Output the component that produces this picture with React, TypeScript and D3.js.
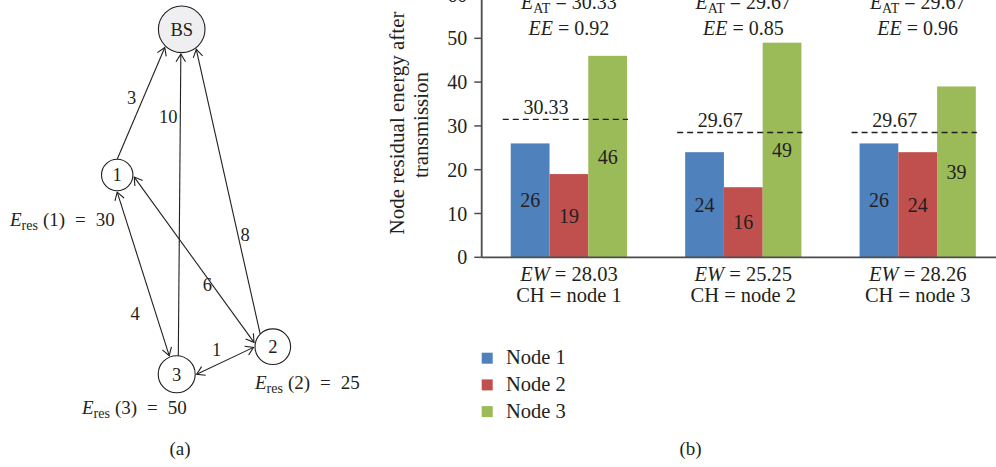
import React from "react";
import * as d3 from "d3";

// ---------- data ----------
const CATEGORY_CH = ["node 1", "node 2", "node 3"];
const EW_VALUES = ["28.03", "25.25", "28.26"];
const EAT_LABELS = ["30.33", "29.67", "29.67"];
const EE_VALUES = ["0.92", "0.85", "0.96"];
const EAT_LINE_LEVEL = [31.5, 28.5, 28.5];
const SERIES = ["Node 1", "Node 2", "Node 3"];
const NODE1_VALUES = [26, 24, 26];
const NODE2_VALUES = [19, 16, 24];
const NODE3_VALUES = [46, 49, 39];
const Y_TICKS = [0, 10, 20, 30, 40, 50, 60];

// graph (a)
const GRAPH_NODES = [
  { id: "BS", label: "BS" },
  { id: "1", label: "1" },
  { id: "2", label: "2" },
  { id: "3", label: "3" },
];
const GRAPH_EDGES = [
  { from: "1", to: "BS", weight: "3", both: false },
  { from: "3", to: "BS", weight: "10", both: false },
  { from: "2", to: "BS", weight: "8", both: false },
  { from: "1", to: "3", weight: "4", both: true },
  { from: "1", to: "2", weight: "6", both: true },
  { from: "3", to: "2", weight: "1", both: true },
];
const RESIDUAL = [
  { node: "1", value: "30" },
  { node: "2", value: "25" },
  { node: "3", value: "50" },
];

// ---------- layout ----------
const FONT = "'Liberation Serif', 'Times New Roman', serif";
const TEXT = "#231f20";
const COLORS = ["#4F81BD", "#C0504D", "#9BBB59"];

const NODE_POS: Record<string, { x: number; y: number; r: number; fill: string }> = {
  BS: { x: 181.7, y: 29.3, r: 23.3, fill: "#efeff1" },
  "1": { x: 117.2, y: 175, r: 15.7, fill: "#ffffff" },
  "2": { x: 272.8, y: 346.7, r: 17.8, fill: "#ffffff" },
  "3": { x: 176.7, y: 374.2, r: 18.5, fill: "#ffffff" },
};
// angle (deg) where each edge touches the from / to node, and weight label position
const EDGE_LAYOUT = [
  { a: -90, b: 133, lx: 131.7, ly: 97.3 },
  { a: -85, b: 92, lx: 168.3, ly: 116.7 },
  { a: -135, b: 54, lx: 245, ly: 235 },
  { a: 90, b: -112, lx: 135, ly: 313.3 },
  { a: 7, b: -167, lx: 207.3, ly: 285 },
  { a: 0, b: 178, lx: 216.7, ly: 350 },
];
const RES_LAYOUT: Record<string, { x: number; y: number }> = {
  "1": { x: 10, y: 226 },
  "2": { x: 255, y: 388.5 },
  "3": { x: 82, y: 414 },
};

function pointOn(id: string, deg: number, extra: number) {
  const n = NODE_POS[id];
  const t = (deg * Math.PI) / 180;
  return { x: n.x + (n.r + extra) * Math.cos(t), y: n.y + (n.r + extra) * Math.sin(t) };
}

function arrowHead(tip: { x: number; y: number }, from: { x: number; y: number }, key: string) {
  const ang = Math.atan2(from.y - tip.y, from.x - tip.x);
  const len = 9;
  const spread = (32 * Math.PI) / 180;
  const p1 = { x: tip.x + len * Math.cos(ang + spread), y: tip.y + len * Math.sin(ang + spread) };
  const p2 = { x: tip.x + len * Math.cos(ang - spread), y: tip.y + len * Math.sin(ang - spread) };
  return (
    <path
      key={key}
      d={`M${p1.x},${p1.y}L${tip.x},${tip.y}L${p2.x},${p2.y}`}
      fill="none"
      stroke="#231f20"
      strokeWidth={1.1}
    />
  );
}

function GraphPanel() {
  return (
    <g fontFamily={FONT} fill={TEXT}>
      {GRAPH_EDGES.map((e, i) => {
        const L = EDGE_LAYOUT[i];
        const p = pointOn(e.from, L.a, e.both ? 1.5 : 0);
        const q = pointOn(e.to, L.b, 1.5);
        return (
          <g key={i}>
            <line x1={p.x} y1={p.y} x2={q.x} y2={q.y} stroke="#231f20" strokeWidth={1.1} />
            {arrowHead(q, p, "b")}
            {e.both ? arrowHead(p, q, "a") : null}
            <text x={L.lx} y={L.ly} dy="0.35em" textAnchor="middle" fontSize={18.5}>
              {e.weight}
            </text>
          </g>
        );
      })}
      {GRAPH_NODES.map((n) => {
        const p = NODE_POS[n.id];
        return (
          <g key={n.id}>
            <circle cx={p.x} cy={p.y} r={p.r} fill={p.fill} stroke="#231f20" strokeWidth={1.1} />
            <text x={p.x} y={p.y} dy="0.35em" textAnchor="middle" fontSize={18.5}>
              {n.label}
            </text>
          </g>
        );
      })}
      {RESIDUAL.map((r) => {
        const p = RES_LAYOUT[r.node];
        return (
          <text key={r.node} x={p.x} y={p.y} fontSize={19}>
            <tspan fontStyle="italic">E</tspan>
            <tspan fontSize={14} dy={4}>res</tspan>
            <tspan dy={-4} dx={5}>({r.node})</tspan>
            <tspan dx={10}>=</tspan>
            <tspan dx={10}>{r.value}</tspan>
          </text>
        );
      })}
      <text x={180} y={455} textAnchor="middle" fontSize={19}>(a)</text>
    </g>
  );
}

function ChartPanel() {
  const axisX = 481.7;
  const y = d3.scaleLinear().domain([0, 60]).range([257.3, -5.5]);
  const x0 = d3
    .scaleBand<number>()
    .domain(d3.range(CATEGORY_CH.length))
    .range([axisX, axisX + 3 * 174.4])
    .paddingInner(0)
    .paddingOuter(0);
  const x1 = d3
    .scaleBand<number>()
    .domain(d3.range(SERIES.length))
    .range([0, x0.bandwidth()])
    .paddingInner(0)
    .paddingOuter(0.75);
  const seriesValues = [NODE1_VALUES, NODE2_VALUES, NODE3_VALUES];
  const fs = 20;
  const axisColor = "#4d4d4d";

  return (
    <g fontFamily={FONT} fill={TEXT}>
      {/* bars */}
      {CATEGORY_CH.map((_, ci) =>
        seriesValues.map((vals, si) => {
          const bx = (x0(ci) as number) + (x1(si) as number);
          const v = vals[ci];
          return (
            <g key={`${ci}-${si}`}>
              <rect x={bx} y={y(v)} width={x1.bandwidth()} height={y(0) - y(v)} fill={COLORS[si]} />
              <text x={bx + x1.bandwidth() / 2} y={y(v / 2)} dy="0.35em" textAnchor="middle" fontSize={fs}>
                {v}
              </text>
            </g>
          );
        })
      )}
      {/* average lines */}
      {CATEGORY_CH.map((_, ci) => {
        const gx0 = (x0(ci) as number) + (x1(0) as number);
        const gx1 = (x0(ci) as number) + (x1(2) as number) + x1.bandwidth();
        const cx = (x0(ci) as number) + x0.bandwidth() / 2;
        const ly = y(EAT_LINE_LEVEL[ci]);
        return (
          <g key={`eat-${ci}`}>
            <line x1={gx0 - 8} x2={gx1 + 1} y1={ly} y2={ly} stroke="#231f20" strokeWidth={1.4} strokeDasharray="6,4" />
            <text x={cx - 23} y={ly - 5} textAnchor="middle" fontSize={fs}>
              {EAT_LABELS[ci]}
            </text>
            <text x={cx} y={9} textAnchor="middle" fontSize={fs}>
              <tspan fontStyle="italic">E</tspan>
              <tspan fontSize={14} dy={4}>AT</tspan>
              <tspan dy={-4}>{` = ${EAT_LABELS[ci]}`}</tspan>
            </text>
            <text x={cx} y={35} textAnchor="middle" fontSize={fs}>
              <tspan fontStyle="italic">EE</tspan>
              <tspan>{` = ${EE_VALUES[ci]}`}</tspan>
            </text>
            <text x={cx} y={281} textAnchor="middle" fontSize={20.5}>
              <tspan fontStyle="italic">EW</tspan>
              <tspan>{` = ${EW_VALUES[ci]}`}</tspan>
            </text>
            <text x={cx} y={302} textAnchor="middle" fontSize={20.5}>
              {`CH = ${CATEGORY_CH[ci]}`}
            </text>
          </g>
        );
      })}
      {/* axes */}
      <line x1={axisX} x2={axisX} y1={y(60)} y2={y(0)} stroke={axisColor} strokeWidth={1.8} />
      <line x1={axisX} x2={996} y1={y(0)} y2={y(0)} stroke={axisColor} strokeWidth={1.8} />
      {Y_TICKS.map((t) => (
        <g key={t}>
          <line x1={axisX - 7.4} x2={axisX} y1={y(t)} y2={y(t)} stroke={axisColor} strokeWidth={1.5} />
          <text x={467.3} y={y(t)} dy="0.35em" textAnchor="end" fontSize={fs}>
            {t}
          </text>
        </g>
      ))}
      <g transform="translate(404,123) rotate(-90)">
        <text x={0} y={0} textAnchor="middle" fontSize={21}>Node residual energy after</text>
      </g>
      <g transform="translate(428,125) rotate(-90)">
        <text x={0} y={0} textAnchor="middle" fontSize={21}>transmission</text>
      </g>
      {/* legend */}
      {SERIES.map((s, i) => (
        <g key={s}>
          <rect x={481.7} y={352.7 + i * 26.7} width={11} height={11} fill={COLORS[i]} />
          <text x={506} y={364.3 + i * 26.7} fontSize={20.5}>
            {s}
          </text>
        </g>
      ))}
      <text x={690.5} y={455} textAnchor="middle" fontSize={19}>(b)</text>
    </g>
  );
}

export default function App() {
  return (
    <svg
      width={996}
      height={467}
      viewBox="0 0 996 467"
      style={{ position: "absolute", left: 0, top: 0, background: "#ffffff" }}
    >
      <rect width={996} height={467} fill="#ffffff" />
      <GraphPanel />
      <ChartPanel />
    </svg>
  );
}
